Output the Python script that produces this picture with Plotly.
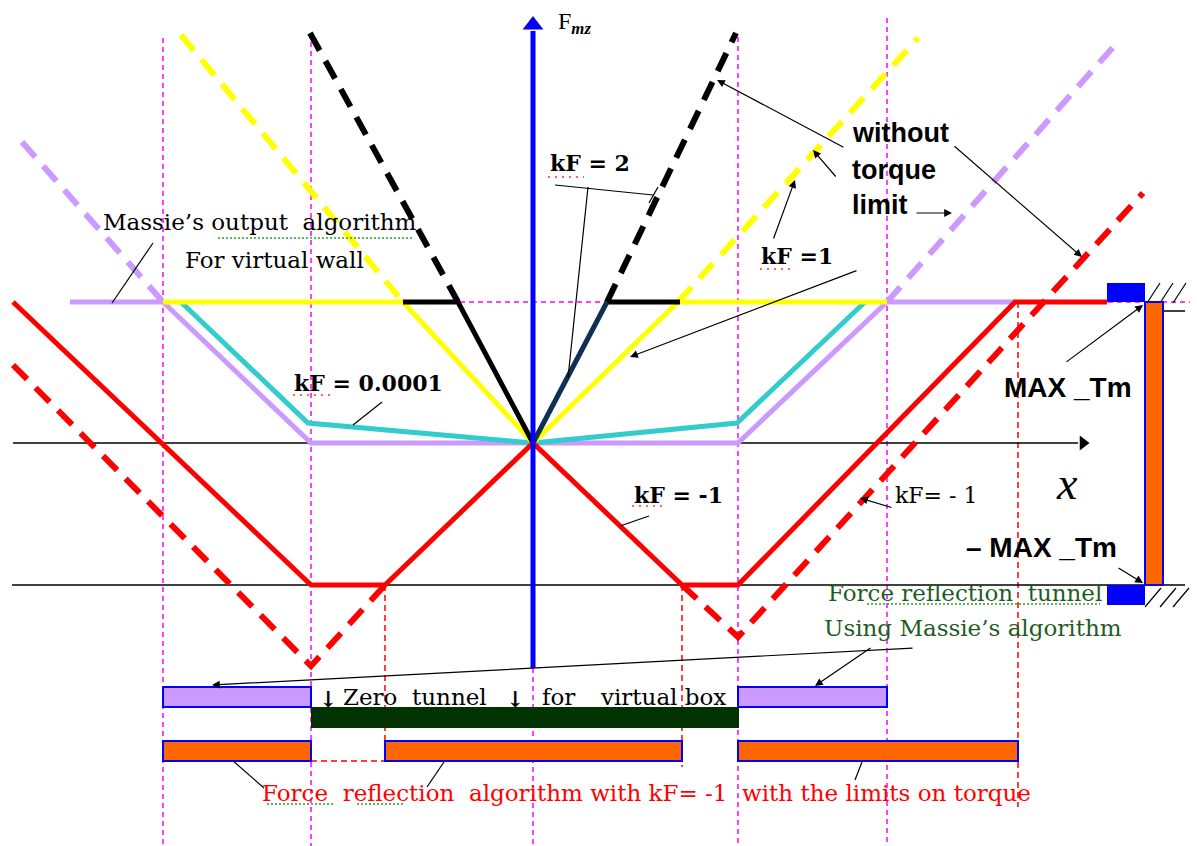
import plotly.graph_objects as go

# ---------------------------------------------------------------------------
# Diagram coordinates: X = displacement, F = reflected force (F_mz).
# Torque limits
MAX_TM = 141
MIN_TM = -142

# Massie's output algorithm for a virtual wall (lavender)
massie_x = [-463, -370, -222, 205, 354, 482]
massie_f = [141, 141, 0, 0, 141, 141]
massie_free_l_x = [-511, -370]
massie_free_l_f = [301, 141]
massie_free_r_x = [354, 582]
massie_free_r_f = [141, 398]

# kF = 0.0001 (cyan)
kf_small_x = [-352, -225, 0, 204, 332]
kf_small_f = [141, 20, 0, 20, 141]

# kF = 1 (yellow)
kf1_x = [-370, -130, 0, 145, 354]
kf1_f = [141, 141, 0, 141, 141]
kf1_free_l_x = [-352, -130]
kf1_free_l_f = [408, 141]
kf1_free_r_x = [145, 385]
kf1_free_r_f = [141, 405]

# kF = 2 (black / dark blue)
kf2_l_x = [-130, -75, 0]
kf2_l_f = [141, 141, 0]
kf2_r_x = [0, 74]
kf2_r_f = [0, 141]
kf2_rflat_x = [74, 147]
kf2_rflat_f = [141, 141]
kf2_free_l_x = [-223, -75]
kf2_free_l_f = [410, 141]
kf2_free_r_x = [74, 203]
kf2_free_r_f = [141, 410]

# kF = -1 with torque limits (red)
kfm1_x = [-520, -222, -148, 0, 149, 205, 482, 574]
kfm1_f = [141, -142, -142, 0, -142, -142, 141, 141]
kfm1_free_l_x = [-520, -222, -148]
kfm1_free_l_f = [78, -223, -142]
kfm1_free_r_x = [149, 205, 610]
kfm1_free_r_f = [-142, -194, 250]

# Region boundaries
wall_x = [-370, -222, 0, 205, 354]
wall_top = [405, 401, -225, 406, 425]
limit_x = [-148, 149, 485]
limit_top = [-142, -142, 141]
limit_bot = [-320, -324, -364]

# Tunnel bars: (x0, x1)
massie_bars = [(-370, -222), (205, 354)]
zero_bar = [(-222, 206)]
reflect_bars = [(-370, -222), (-148, 149), (205, 485)]
massie_row = (-264, -244)
zero_row = (-285, -264)
reflect_row = (-318, -298)

SERIF = "DejaVu Serif"
SANS = "Liberation Sans"

fig = go.Figure()


def line(x, y, color, width, dash="solid"):
    fig.add_trace(go.Scatter(x=x, y=y, mode="lines",
                             line=dict(color=color, width=width, dash=dash),
                             hoverinfo="skip", showlegend=False))


# magenta boundary lines
line([-370, 657], [MAX_TM, MAX_TM], "#FF00FF", 1.5, "5px,4px")
for xv, top in zip(wall_x, wall_top):
    line([xv, xv], [top, -403], "#FF00FF", 1.5, "5px,4px")
for xv, t, b in zip(limit_x, limit_top, limit_bot):
    line([xv, xv], [t, b], "#FF0000", 1.5, "6px,4px")
line([-222, -148], [reflect_row[0], reflect_row[0]], "#FF0000", 1.5, "6px,4px")

# axes (black)
line([-520, 545], [0, 0], "#000000", 1.5)
line([-521, 652], [MIN_TM, MIN_TM], "#000000", 1.5)
fig.add_trace(go.Scatter(x=[550], y=[0], mode="markers",
                         marker=dict(symbol="triangle-right", size=13, color="#000000"),
                         hoverinfo="skip", showlegend=False))
line([615, 652], [132, 132], "#000000", 1.5)

# hatching at the stops
for x0 in [614, 627, 640]:
    line([x0, x0 + 13], [140, 160], "#000000", 1.2)
for x0 in [612, 627, 640]:
    line([x0, x0 + 16], [-164, -145], "#000000", 1.2)

# curves
DASH = "20px,12px"
line(massie_free_l_x, massie_free_l_f, "#CC99FF", 6, DASH)
line(massie_free_r_x, massie_free_r_f, "#CC99FF", 6, DASH)
line(massie_x, massie_f, "#CC99FF", 5)
line(kf_small_x, kf_small_f, "#33CCCC", 5)
line(kf1_free_l_x, kf1_free_l_f, "#FFFF00", 6, DASH)
line(kf1_free_r_x, kf1_free_r_f, "#FFFF00", 6, DASH)
line(kf1_x, kf1_f, "#FFFF00", 5)
line(kf2_free_l_x, kf2_free_l_f, "#000000", 6, DASH)
line(kf2_free_r_x, kf2_free_r_f, "#000000", 6, DASH)
line(kf2_l_x, kf2_l_f, "#000000", 5)
line(kf2_rflat_x, kf2_rflat_f, "#000000", 5)
line(kf2_r_x, kf2_r_f, "#0F2F55", 5)
line(kfm1_free_l_x, kfm1_free_l_f, "#FF0000", 6, DASH)
line(kfm1_free_r_x, kfm1_free_r_f, "#FF0000", 6, DASH)
line(kfm1_x, kfm1_f, "#FF0000", 5)

# F axis (blue)
line([0, 0], [-225, 412], "#0000FF", 5)
fig.add_trace(go.Scatter(x=[0], y=[418], mode="markers",
                         marker=dict(symbol="triangle-up", size=18, color="#0000FF"),
                         hoverinfo="skip", showlegend=False))

# bars
shapes = []


def rect(x0, x1, y0, y1, fill, border):
    shapes.append(dict(type="rect", xref="x", yref="y", x0=x0, x1=x1, y0=y0, y1=y1,
                       fillcolor=fill, line=dict(color=border, width=2 if border else 0),
                       layer="above"))


for x0, x1 in massie_bars:
    rect(x0, x1, massie_row[0], massie_row[1], "#CC99FF", "#0000FF")
for x0, x1 in zero_bar:
    rect(x0, x1, zero_row[0], zero_row[1], "#003300", None)
for x0, x1 in reflect_bars:
    rect(x0, x1, reflect_row[0], reflect_row[1], "#FF6600", "#0000FF")
rect(612, 630, MIN_TM, MAX_TM, "#FF6600", "#0000FF")
rect(574, 612, MAX_TM, 160, "#0000FF", None)
rect(574, 612, -162, MIN_TM, "#0000FF", None)

# leader lines
leaders = [
    ([-380, -421], [200, 140]),
    ([-151, -180], [41, 18]),
    ([22, 120], [258, 248]),
    ([55, 35], [256, 65]),
    ([116, 125], [240, 256]),
    ([116, 87], [-73, -83]),
    ([-301, -269], [-317, -345]),
    ([-89, -106], [-319, -344]),
    ([329, 322], [-319, -337]),
]
for lx, ly in leaders:
    line(lx, ly, "#000000", 1.2)

# proofing marks under some words
red_marks = [([15, 51], [266, 266]), ([227, 262], [174, 174]),
             ([-240, -203], [48, 48]), ([99, 134], [-63, -63])]
for mx, my in red_marks:
    line(mx, my, "#FF3333", 1.5, "2px,5px")
green_marks = [([-315, -120], [205, 205]), ([334, 567], [-161, -161]),
               ([-266, -200], [-361, -361]), ([-176, -130], [-361, -361])]
for mx, my in green_marks:
    line(mx, my, "#2E9B2E", 1.5, "2px,2px")

annotations = []


def arrow(tail, head):
    annotations.append(dict(x=head[0], y=head[1], ax=tail[0], ay=tail[1],
                            xref="x", yref="y", axref="x", ayref="y", text="",
                            showarrow=True, arrowhead=2, arrowsize=1.3,
                            arrowwidth=1.2, arrowcolor="#000000"))


arrow((312, 295), (184, 363))
arrow((304, 265), (280, 293))
arrow((382, 230), (419, 230))
arrow((420, 298), (549, 186))
arrow((325, 173), (97, 86))
arrow((240, 203), (262, 263))
arrow((532, 80), (610, 138))
arrow((584, -124), (610, -140))
arrow((381, -205), (-321, -242))
arrow((339, -204), (282, -243))
arrow((360, -65), (327, -55))


def text(x, y, s, size, color="#000000", family=SERIF, bold=False, italic=False, anchor="center"):
    if bold:
        s = "<b>" + s + "</b>"
    if italic:
        s = "<i>" + s + "</i>"
    annotations.append(dict(x=x, y=y, xref="x", yref="y", text=s, showarrow=False,
                            xanchor=anchor, yanchor="middle",
                            font=dict(family=family, size=size, color=color)))


text(-273, 221, "Massie’s output  algorithm", 23)
text(-259, 183, "For virtual wall", 23)
text(23, 420, "F<sub><i><b>mz</b></i></sub>", 24, family="Liberation Serif", anchor="left")
text(57, 280, "kF = 2", 22, bold=True)
text(264, 187, "kF =1", 22, bold=True)
text(317, 310, "without", 27, family=SANS, bold=True, anchor="left")
text(317, 273, "torque", 27, family=SANS, bold=True, anchor="left")
text(317, 238, "limit", 27, family=SANS, bold=True, anchor="left")
text(-165, 60, "kF = 0.0001", 22, bold=True)
text(145, -52, "kF = -1", 22, bold=True)
text(403, -52, "kF= - 1", 22)
text(534, -40, "x", 46, family="Liberation Serif", italic=True)
text(535, 56, "MAX _Tm", 28, family=SANS, bold=True)
text(508, -104, "– MAX _Tm", 28, family=SANS, bold=True)
text(432, -150, "Force reflection  tunnel", 23, color="#1F5C1F")
text(440, -185, "Using Massie’s algorithm", 23, color="#1F5C1F")
text(-192, -254, "Zero  tunnel", 23, anchor="left")
text(7, -254, "for", 23, anchor="left")
text(65, -254, "virtual box", 23, anchor="left")
text(-205, -256, "↓", 22, bold=True)
text(-18, -256, "↓", 22, bold=True)
text(113, -350, "Force  reflection  algorithm with kF= -1  with the limits on torque", 23,
     color="#FF0000")

fig.update_layout(
    width=1197, height=846,
    margin=dict(l=0, r=0, t=0, b=0),
    paper_bgcolor="#FFFFFF", plot_bgcolor="#FFFFFF",
    xaxis=dict(range=[-533, 664], visible=False, fixedrange=True),
    yaxis=dict(range=[-403, 443], visible=False, fixedrange=True),
    shapes=shapes, annotations=annotations,
    showlegend=False, hovermode=False,
)

fig.write_html("out.html")
